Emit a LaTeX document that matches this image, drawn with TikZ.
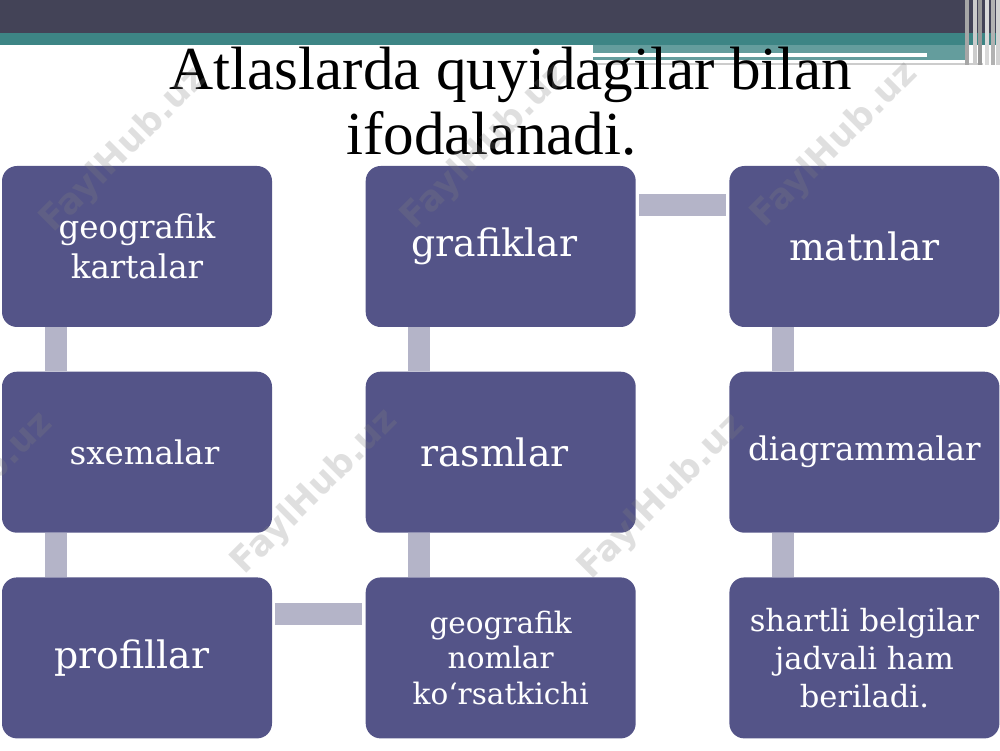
\documentclass[tikz,border=0pt]{standalone}
\usepackage{fontspec}
\setmainfont{DejaVu Serif}
\newfontfamily\titlefont{Liberation Serif}
\newfontfamily\markfont{DejaVu Sans}
\usepackage{tikz}
\usetikzlibrary{positioning}

\definecolor{boxblue}{HTML}{545488}
\definecolor{linkgray}{HTML}{B4B4C8}
\definecolor{bardark}{HTML}{434357}
\definecolor{barteal}{HTML}{3D8585}

\begin{document}
\begin{tikzpicture}[
  item/.style={fill=boxblue, rounded corners=0.3cm, minimum width=5.4cm,
    minimum height=3.22cm, text=white, align=center, inner sep=0pt},
  big/.style={font=\fontsize{21.5}{26}\selectfont},
  mid/.style={font=\fontsize{18.5}{23}\selectfont},
  small/.style={font=\fontsize{16.8}{20}\selectfont},
  head/.style={font=\titlefont\fontsize{34.8}{38}\selectfont, anchor=base},
  link/.style={draw=linkgray, line width=0.44cm},
  wmark/.style={text=gray, opacity=0.25, rotate=45,
    font=\markfont\bfseries\fontsize{20}{20}\selectfont}
]
\useasboundingbox (0,0) rectangle (20,15);

% top bar
\fill[bardark] (0,14.34) rectangle (20,15);
\fill[barteal] (0,14.1) rectangle (20,14.34);
\fill[barteal!80] (11.86,13.8) rectangle (19.3,14.1);
\draw[white, line width=2pt] (11.86,13.9) -- (18.54,13.9);
\draw[gray!40, line width=1pt] (11.86,13.72) -- (19.66,13.72);
\foreach \x/\c in {19.3/gray!70, 19.45/gray!40, 19.55/gray!80, 19.7/gray!30, 19.82/gray!60, 19.92/gray!35}
  \fill[\c] (\x,13.7) rectangle ++(0.08,1.3);

% title
\node[head] (title1) at (10.22,13.2) {Atlaslarda quyidagilar bilan};
\node[head] (title2) at (9.83,11.9) {ifodalanadi.};

% boxes
\node[item, mid] (kart) at (2.74,10.07) {geografik\\kartalar};
\node[item, mid, below=0.88cm of kart] (sxema) {\hspace{0.3cm}sxemalar};
\node[item, big, below=0.88cm of sxema] (profil) {profillar\hspace{0.2cm}};
\node[item, big, right=1.86cm of kart] (grafik) {grafiklar\hspace{0.25cm}};
\node[item, big, below=0.88cm of grafik] (rasm) {rasmlar\hspace{0.25cm}};
\node[item, small, below=0.88cm of rasm] (nomlar) {geografik\\nomlar\\ko‘rsatkichi};
\node[item, big, right=1.86cm of grafik] (matn) {matnlar};
\node[item, mid, below=0.88cm of matn] (diagr) {diagrammalar};
\node[item, font=\fontsize{17.4}{21.5}\selectfont, below=0.88cm of diagr] (belgi) {shartli belgilar\\jadvali ham\\beriladi.};

% links
\draw[link] ([xshift=1.08cm]kart.south west) -- ([xshift=1.08cm]sxema.north west);
\draw[link] ([xshift=1.08cm]sxema.south west) -- ([xshift=1.08cm]profil.north west);
\draw[link, shorten <=0.06cm, shorten >=0.06cm] ([yshift=-0.73cm]profil.north east) -- ([yshift=-0.73cm]nomlar.north west);
\draw[link] ([xshift=1.08cm]nomlar.north west) -- ([xshift=1.08cm]rasm.south west);
\draw[link] ([xshift=1.08cm]rasm.north west) -- ([xshift=1.08cm]grafik.south west);
\draw[link, shorten <=0.06cm, shorten >=0.06cm] ([yshift=-0.78cm]grafik.north east) -- ([yshift=-0.78cm]matn.north west);
\draw[link] ([xshift=1.08cm]matn.south west) -- ([xshift=1.08cm]diagr.north west);
\draw[link] ([xshift=1.08cm]diagr.south west) -- ([xshift=1.08cm]belgi.north west);

% watermark
\foreach \p [count=\i] in {(2.48,12.0),(9.7,12.06),(16.7,12.1),(-0.6,5.1),(6.3,5.16),(13.24,5.06)}
  \node[wmark] (wm\i) at \p {FaylHub.uz};
\end{tikzpicture}
\end{document}
